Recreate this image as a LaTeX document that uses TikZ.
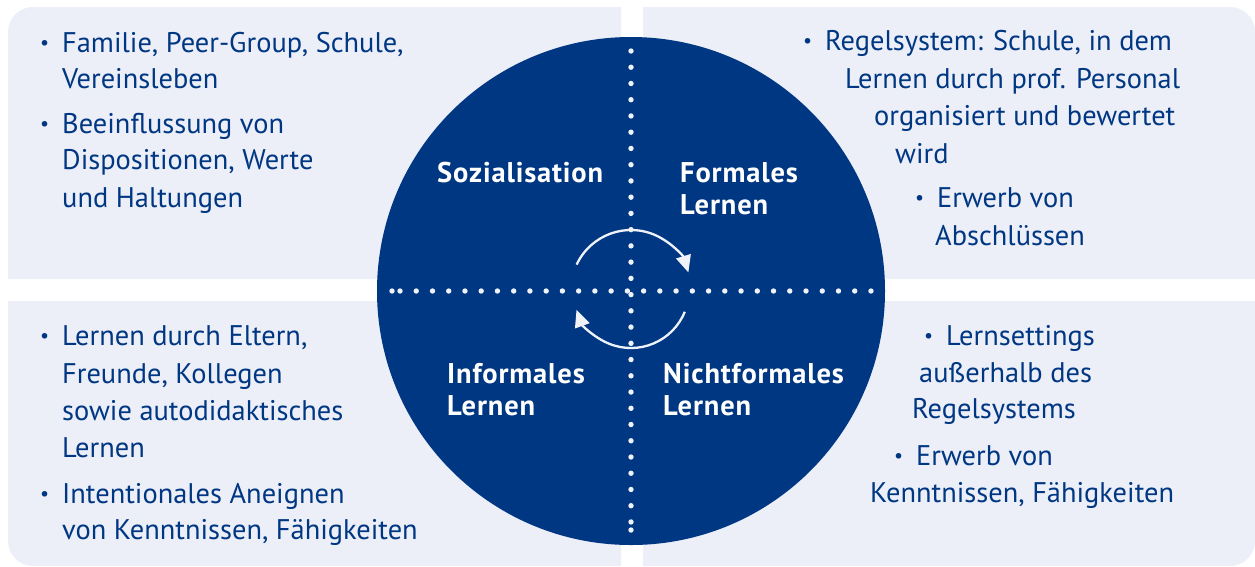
\documentclass[tikz,border=0pt]{standalone}
\usepackage{fontspec}
\setmainfont{PT Sans}
\usetikzlibrary{arrows.meta}
\definecolor{navy}{RGB}{0,55,130}
\definecolor{boxfill}{RGB}{236,238,248}
\definecolor{dotc}{RGB}{240,242,250}
\newcommand\bul{\llap{{\fontsize{20}{20}\selectfont\raisebox{2.5pt}{•}}\hspace{13pt}}}
\begin{document}
\begin{tikzpicture}[x=1pt,y=-1pt,
  txt/.style={anchor=base west, inner sep=0pt, text=navy, font=\fontsize{28.4}{28.4}\selectfont},
  lbl/.style={anchor=base west, inner sep=0pt, text=white, font=\fontsize{28.5}{28.5}\selectfont\bfseries\addfontfeatures{LetterSpace=3}},
  boxshape/.style={fill=boxfill},
  cyc/.style={draw=dotc, line width=2.3pt, -{Triangle[length=17pt,width=15pt]}},
  dotmark/.style={fill=dotc}]
\useasboundingbox (0,0) rectangle (1255,566);
% quadrant boxes
\fill[boxshape] (8,279) -- (8,32) arc[start angle=180,end angle=270,radius=25] -- (621,7) -- (621,279) -- cycle;
\fill[boxshape] (643,7) -- (1230,7) arc[start angle=270,end angle=360,radius=25] -- (1255,279) -- (643,279) -- cycle;
\fill[boxshape] (8,301) -- (621,301) -- (621,566) -- (33,566) arc[start angle=90,end angle=180,radius=25] -- cycle;
\fill[boxshape] (643,301) -- (1255,301) -- (1255,541) arc[start angle=0,end angle=90,radius=25] -- (643,566) -- cycle;
% circle
\fill[navy] (631,291) circle[radius=254];
% dotted cross
\foreach \k in {0,...,29} {
  \fill[dotmark] (631,{51+16.24*\k}) circle[radius=2.7];
  \fill[dotmark] ({400+16.24*\k},291) circle[radius=2.7];
}
\fill[dotmark] (631,530) circle[radius=2.7];
\fill[dotmark] (392,291) circle[radius=2.7];
% cycle arrows
\draw[cyc] (631,290) ++(-155:60) arc[start angle=-155,end angle=-17,radius=60];
\draw[cyc] (631,290) ++(22:58) arc[start angle=22,end angle=160,radius=58];
% labels in circle
\node[lbl] (l1) at (437,182) {Sozialisation};
\node[lbl] (l2) at (680,182) {Formales};
\node[lbl] (l3) at (680,214) {Lernen};
\node[lbl] (l4) at (447,383) {Informales};
\node[lbl] (l5) at (447,415) {Lernen};
\node[lbl] (l6) at (663,383) {Nichtformales};
\node[lbl] (l7) at (663,415) {Lernen};
% top left
\node[txt] (a1) at (62,52) {\bul Familie, Peer-Group, Schule,};
\node[txt] (a2) at (62,88) {Vereinsleben};
\node[txt] (a3) at (62,133) {\bul Beeinflussung von};
\node[txt] (a4) at (62,169) {Dispositionen, Werte};
\node[txt] (a5) at (62,207) {und Haltungen};
% top right
\node[txt] (b1) at (825,50) {\bul Regelsystem: Schule, in dem};
\node[txt] (b2) at (845,88) {Lernen durch prof. Personal};
\node[txt] (b3) at (874,125) {organisiert und bewertet};
\node[txt] (b4) at (895,163) {wird};
\node[txt] (b5) at (937,207) {\bul Erwerb von};
\node[txt] (b6) at (935,245) {Abschlüssen};
% bottom left
\node[txt] (c1) at (62,345) {\bul Lernen durch Eltern,};
\node[txt] (c2) at (62,383) {Freunde, Kollegen};
\node[txt] (c3) at (62,420) {sowie autodidaktisches};
\node[txt] (c4) at (62,457) {Lernen};
\node[txt] (c5) at (62,503) {\bul Intentionales Aneignen};
\node[txt] (c6) at (62,539) {von Kenntnissen, Fähigkeiten};
% bottom right
\node[txt] (d1) at (946,345) {\bul Lernsettings};
\node[txt] (d2) at (919,382) {außerhalb des};
\node[txt] (d3) at (912,418) {Regelsystems};
\node[txt] (d4) at (916,465) {\bul Erwerb von};
\node[txt] (d5) at (870,502) {Kenntnissen, Fähigkeiten};
\end{tikzpicture}
\end{document}
